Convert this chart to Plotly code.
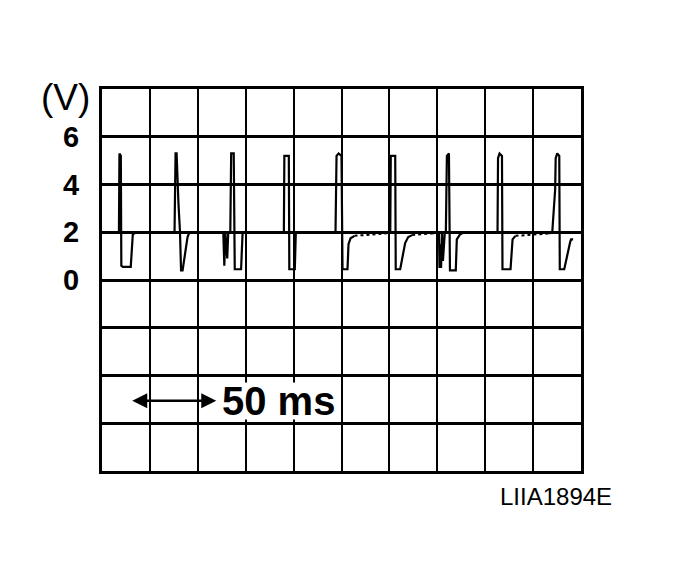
import plotly.graph_objects as go

# ---- data (time in ms, voltage in V) ----
wave_t = [0, 9.9, 10.2, 11.0, 11.3, 12.2, 16.8, 18.0, 19.8,
          42.4, 43.0, 43.6, 44.7, 45.6, 46.2, 47.1, 50.0, 51.1,
          70.9, 71.5, 72.1, 73.2, 73.8, 75.0, 75.5, 77.0, 77.6, 81.3, 82.2,
          106.3, 106.6, 109.2, 109.5, 112.7, 113.3,
          136.5, 137.1, 138.3, 140.0, 140.6, 143.5, 144.1, 145.3, 147.6, None,
          165.6, 168.5, 168.8, 171.4, 171.7, 174.3, 177.2, 179.0, 181.3, None,
          192.9, 195.8, 197.0, 197.3, 197.9, 198.2, 198.8, 199.3, 200.4, 201.0,
          201.6, 202.8, 203.4, 206.8, 207.4, 209.2, 211.5,
          231.2, 231.5, 232.4, 233.8, 234.1, 238.8, 240.0, 241.7, None,
          261.5, 263.2, 264.9, 265.2, 266.1, 267.3, 267.6, 270.2, 273.7, 274.2, 275.4]
wave_v = [2.0, 2.0, 5.3, 5.2, 0.6, 0.55, 0.55, 1.9, 2.0,
          2.0, 5.3, 5.3, 3.2, 2.0, 0.4, 0.4, 1.8, 2.0,
          2.0, 0.6, 2.0, 0.9, 2.0, 2.0, 5.3, 5.3, 0.45, 0.45, 2.0,
          2.0, 5.2, 5.2, 0.45, 0.45, 2.0,
          2.0, 5.2, 5.3, 5.2, 0.45, 0.45, 1.5, 1.75, 1.85, None,
          1.95, 2.0, 5.2, 5.2, 0.45, 0.45, 1.55, 1.8, 1.88, None,
          1.95, 2.0, 2.0, 0.5, 1.5, 0.5, 2.0, 0.8, 2.0, 2.0,
          5.2, 5.3, 0.4, 0.4, 1.7, 1.9, 2.0,
          2.0, 5.1, 5.3, 5.2, 0.45, 0.45, 1.7, 1.85, None,
          1.95, 2.0, 3.8, 5.1, 5.3, 5.2, 0.45, 0.45, 1.6, 1.7, 1.7]

# dotted recovery segments
tail_t = [147.6, 165.6, None, 181.3, 192.9, None, 241.7, 261.5]
tail_v = [1.85, 1.95, None, 1.88, 1.95, None, 1.85, 1.95]

y_ticks = [-8, -6, -4, -2, 0, 2, 4, 6, 8]
y_labels = ["", "", "", "", "0", "2", "4", "6", ""]
x_grid_step = 28          # ms per division
x_range = [0, 280]
y_range = [-8, 8]

arrow_from, arrow_to, arrow_level = 16.8, 66.8, -5.06

FONT = "Liberation Sans"

fig = go.Figure()
fig.add_trace(go.Scatter(x=wave_t, y=wave_v, mode="lines",
                         line=dict(color="black", width=2.2),
                         connectgaps=False, showlegend=False, hoverinfo="skip"))
fig.add_trace(go.Scatter(x=tail_t, y=tail_v, mode="lines",
                         line=dict(color="black", width=2, dash="dot"),
                         connectgaps=False, showlegend=False, hoverinfo="skip"))

fig.update_layout(
    width=673, height=573,
    margin=dict(l=94, r=100, t=81, b=110),
    paper_bgcolor="white", plot_bgcolor="white",
    font=dict(family=FONT, color="black"),
    xaxis=dict(range=x_range, dtick=x_grid_step, tick0=0,
               showgrid=True, gridcolor="black", gridwidth=2,
               showticklabels=False, ticks="", zeroline=False,
               showline=True, mirror=True, linecolor="black", linewidth=3),
    yaxis=dict(range=y_range, tickmode="array", tickvals=y_ticks, ticktext=y_labels,
               showgrid=True, gridcolor="black", gridwidth=3,
               ticks="", zeroline=False, ticklabelstandoff=14,
               tickfont=dict(size=29, family=FONT, color="black", weight="bold"),
               showline=True, mirror=True, linecolor="black", linewidth=3),
)

fig.add_annotation(x=arrow_to, y=arrow_level, ax=arrow_from, ay=arrow_level,
                   xref="x", yref="y", axref="x", ayref="y",
                   text="", showarrow=True, arrowhead=2, arrowside="end+start",
                   arrowsize=1.2, arrowwidth=2.5, arrowcolor="black")
fig.add_annotation(x=69.5, y=arrow_level, xref="x", yref="y", text="50 ms",
                   showarrow=False, xanchor="left", yanchor="middle",
                   height=36, borderpad=0, valign="middle",
                   bgcolor="white", font=dict(size=40, color="black", weight=600))
fig.add_annotation(x=-0.077, y=0.979, xref="paper", yref="paper", text="(V)",
                   showarrow=False, xanchor="center", yanchor="middle",
                   font=dict(size=37, color="black"))
fig.add_annotation(x=0.948, y=-0.068, xref="paper", yref="paper", text="LIIA1894E",
                   showarrow=False, xanchor="center", yanchor="middle",
                   font=dict(size=24, color="black"))

fig.write_html("out.html")
